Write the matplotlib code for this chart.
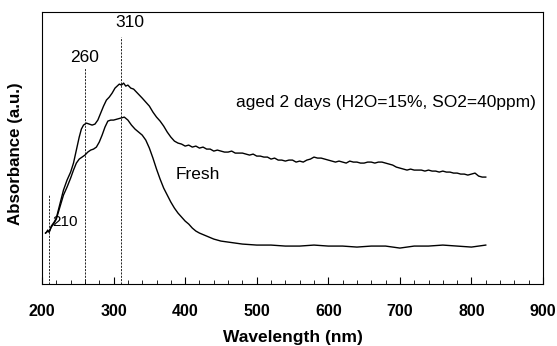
import matplotlib
matplotlib.use("Agg")
import matplotlib.pyplot as plt
from matplotlib.ticker import MultipleLocator

plt.rcParams["font.family"] = ["Liberation Sans", "DejaVu Sans"]

# UV-vis spectra, absorbance in arbitrary units
aged_nm = [205, 206.5, 208, 210, 213, 217, 220, 225, 230, 235, 240, 244, 248, 252, 255, 258,
           262, 266, 270, 274, 278, 282, 286, 290, 294, 298, 302, 305, 308, 311, 314, 317,
           320, 324, 328, 332, 336, 340, 345, 350, 355, 360, 365, 370, 375, 380, 385, 390,
           395, 400, 405, 410, 415, 420, 425, 430, 435, 440, 445, 450, 455, 460, 465, 470,
           475, 480, 485, 490, 495, 500, 505, 510, 515, 520, 525, 530, 535, 540, 545, 550,
           555, 560, 565, 570, 575, 580, 585, 590, 595, 600, 605, 610, 615, 620, 625, 630,
           635, 640, 645, 650, 655, 660, 665, 670, 675, 680, 685, 690, 695, 700, 705, 710,
           715, 720, 725, 730, 735, 740, 745, 750, 755, 760, 765, 770, 775, 780, 785, 790,
           795, 800, 805, 810, 815, 820]
aged_abs = [0.51, 0.52, 0.54, 0.52, 0.58, 0.62, 0.66, 0.80, 0.94, 1.04, 1.12, 1.21, 1.34, 1.47, 1.55, 1.59,
            1.61, 1.60, 1.59, 1.60, 1.64, 1.71, 1.78, 1.84, 1.87, 1.91, 1.96, 1.98, 2.00, 1.99, 2.01, 1.98,
            1.99, 1.96, 1.95, 1.92, 1.89, 1.86, 1.82, 1.78, 1.72, 1.67, 1.63, 1.58, 1.52, 1.47, 1.43, 1.41,
            1.40, 1.38, 1.39, 1.37, 1.38, 1.36, 1.37, 1.35, 1.35, 1.33, 1.34, 1.33, 1.32, 1.32, 1.33, 1.31,
            1.31, 1.31, 1.30, 1.29, 1.30, 1.28, 1.28, 1.27, 1.27, 1.25, 1.26, 1.24, 1.24, 1.23, 1.24, 1.24,
            1.22, 1.23, 1.22, 1.24, 1.25, 1.27, 1.26, 1.26, 1.25, 1.24, 1.23, 1.22, 1.23, 1.22, 1.21, 1.23,
            1.22, 1.22, 1.21, 1.21, 1.22, 1.22, 1.21, 1.22, 1.22, 1.21, 1.20, 1.19, 1.17, 1.16, 1.15, 1.14,
            1.15, 1.14, 1.14, 1.14, 1.13, 1.14, 1.13, 1.13, 1.12, 1.13, 1.12, 1.12, 1.11, 1.11, 1.10, 1.10,
            1.09, 1.10, 1.11, 1.08, 1.07, 1.07]

fresh_nm = [205, 208, 210, 213, 217, 220, 225, 230, 235, 240, 244, 248, 252, 256, 260, 264,
            268, 272, 276, 280, 284, 288, 292, 296, 300, 305, 310, 315, 320, 325, 330, 335,
            340, 345, 350, 355, 360, 365, 370, 375, 380, 385, 390, 395, 400, 405, 410, 415,
            420, 430, 440, 450, 460, 470, 480, 500, 520, 540, 560, 580, 600, 620, 640, 660,
            680, 700, 720, 740, 760, 780, 800, 810, 820]
fresh_abs = [0.51, 0.53, 0.52, 0.57, 0.61, 0.65, 0.77, 0.89, 0.97, 1.06, 1.14, 1.21, 1.25, 1.27, 1.29, 1.32,
             1.34, 1.35, 1.37, 1.42, 1.49, 1.57, 1.63, 1.64, 1.64, 1.65, 1.66, 1.67, 1.64, 1.59, 1.55, 1.52,
             1.49, 1.44, 1.36, 1.26, 1.15, 1.05, 0.96, 0.89, 0.82, 0.76, 0.71, 0.67, 0.63, 0.60, 0.56, 0.53,
             0.51, 0.48, 0.45, 0.43, 0.42, 0.41, 0.40, 0.39, 0.39, 0.38, 0.38, 0.39, 0.38, 0.38, 0.37, 0.38,
             0.38, 0.36, 0.38, 0.38, 0.39, 0.38, 0.37, 0.38, 0.39]

# band markers: position, top of the dashed line
band_nm = [210, 260, 310]
band_top = [0.89, 2.16, 2.47]
band_labels = ["210", "260", "310"]

fig = plt.figure(figsize=(5.57, 3.46), dpi=100, facecolor="white")
ax = fig.add_axes([0.0754, 0.179, 0.8995, 0.786])

ax.plot(aged_nm, aged_abs, color="black", linewidth=1.0)
ax.plot(fresh_nm, fresh_abs, color="black", linewidth=1.0)

for nm, top in zip(band_nm, band_top):
    ax.plot([nm, nm], [0, top], color="black", linestyle=(0, (2.5, 1.5)), linewidth=0.6)

ax.text(323, 2.62, band_labels[2], ha="center", va="center", fontsize=12.5)
ax.text(260, 2.27, band_labels[1], ha="center", va="center", fontsize=12.5)
ax.text(215, 0.62, band_labels[0], ha="left", va="center", fontsize=11)
ax.text(387, 1.10, "Fresh", ha="left", va="center", fontsize=12.5)
ax.text(471, 1.82, "aged 2 days (H2O=15%, SO2=40ppm)", ha="left", va="center", fontsize=12.5)

ax.set_xlim(200, 900)
ax.set_ylim(0, 2.72)
ax.set_yticks([])
ax.xaxis.set_major_locator(MultipleLocator(100))
ax.xaxis.set_minor_locator(MultipleLocator(20))
ax.tick_params(axis="x", which="major", direction="in", length=5, width=0.8, pad=14,
               labelsize=11.5)
ax.tick_params(axis="x", which="minor", direction="in", length=3, width=0.6)
for lbl in ax.get_xticklabels():
    lbl.set_fontweight("bold")
for sp in ax.spines.values():
    sp.set_linewidth(0.8)

ax.set_xlabel("Wavelength (nm)", fontsize=12.5, fontweight="bold", labelpad=8)
ax.set_ylabel("Absorbance (a.u.)", fontsize=12.2, fontweight="bold")
ax.yaxis.set_label_coords(-0.038, 0.48)

fig.savefig("out.png", dpi=100, facecolor="white")
